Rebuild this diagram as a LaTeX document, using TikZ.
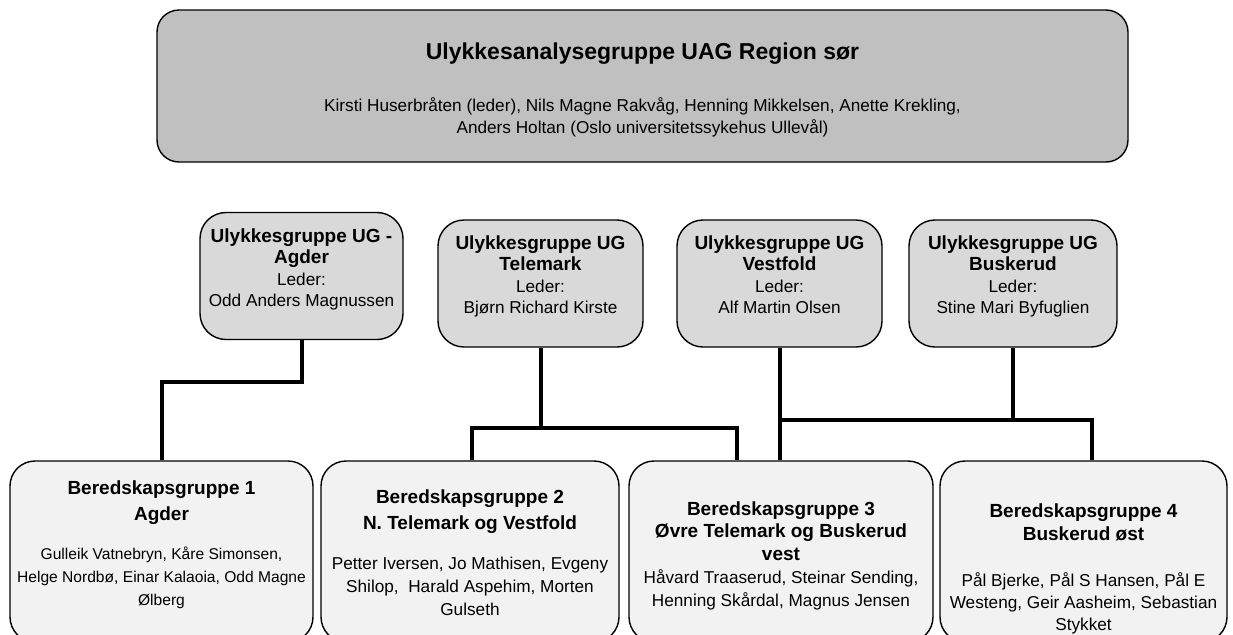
\documentclass[tikz,border=0pt]{standalone}
\usepackage{fontspec}
\setmainfont{Liberation Sans}
\usepackage{xcolor}
\usepackage{tikz}
\usetikzlibrary{positioning}
\definecolor{regiongray}{RGB}{192,192,192}
\definecolor{uggray}{RGB}{217,217,217}
\definecolor{bggray}{RGB}{242,242,242}
\newcommand{\reg}{\mdseries\fontsize{8.6}{10.8}\selectfont}

\begin{document}
\begin{tikzpicture}[x=0.5pt, y=-0.5pt]
\tikzstyle{region} = [rectangle, draw, line width=0.7pt, fill=regiongray, rounded corners=11pt, minimum width=485.5pt, minimum height=76pt]
\tikzstyle{ug} = [rectangle, draw, line width=0.7pt, fill=uggray, rounded corners=13pt, minimum height=63.5pt]
\tikzstyle{bg} = [rectangle, draw, line width=0.7pt, fill=bggray, rounded corners=12.5pt, minimum height=90.5pt]
\tikzstyle{txt} = [anchor=north, align=center, inner sep=0pt, font=\fontsize{8.6}{11.5}\selectfont]
\tikzstyle{head} = [txt, font=\fontsize{9.5}{10.8}\selectfont\bfseries]
\tikzstyle{line} = [draw, line width=2pt]
\useasboundingbox (0,0) rectangle (1233,634);

\node [region] (uag) at (642.5,86) {};
\node [head, font=\fontsize{11.5}{13}\selectfont\bfseries] (uag-title) at (642.5,42) {Ulykkesanalysegruppe UAG Region sør};
\node [txt, font=\fontsize{8.6}{11}\selectfont] (uag-names) at (642.5,97) {Kirsti Huserbråten (leder), Nils Magne Rakvåg, Henning Mikkelsen, Anette Krekling,\\Anders Holtan (Oslo universitetssykehus Ullevål)};

\node [ug, minimum width=101.5pt] (ugagder) at (301.5,276) {};
\node [head] (ugagder-text) at (301.5,228) {Ulykkesgruppe UG -\\Agder\\\reg Leder:\\\reg Odd Anders Magnussen};
\node [ug, minimum width=102.5pt] (ugtelemark) at (540.5,283.5) {};
\node [head] (ugtelemark-text) at (540.5,235) {Ulykkesgruppe UG\\Telemark\\\reg Leder:\\\reg Bjørn Richard Kirste};
\node [ug, minimum width=102.5pt] (ugvestfold) at (779.5,283.5) {};
\node [head] (ugvestfold-text) at (779.5,235) {Ulykkesgruppe UG\\Vestfold\\\reg Leder:\\\reg Alf Martin Olsen};
\node [ug, minimum width=104pt] (ugbuskerud) at (1013,283.5) {};
\node [head] (ugbuskerud-text) at (1013,235) {Ulykkesgruppe UG\\Buskerud\\\reg Leder:\\\reg Stine Mari Byfuglien};

\node [bg, minimum width=151.5pt] (bg1) at (161.5,551.5) {};
\node [head, font=\fontsize{9.5}{13}\selectfont\bfseries] (bg1-head) at (161.5,480) {Beredskapsgruppe 1\\Agder};
\node [txt, font=\fontsize{7.8}{11.5}\selectfont] (bg1-names) at (161.5,547) {Gulleik Vatnebryn, Kåre Simonsen,\\Helge Nordbø, Einar Kalaoia, Odd Magne\\Ølberg};
\node [bg, minimum width=149pt] (bg2) at (470,551.5) {};
\node [head, font=\fontsize{9.5}{13}\selectfont\bfseries] (bg2-head) at (470,489) {Beredskapsgruppe 2\\N. Telemark og Vestfold};
\node [txt] (bg2-names) at (470,557) {Petter Iversen, Jo Mathisen, Evgeny\\Shilop,~ Harald Aspehim, Morten\\Gulseth};
\node [bg, minimum width=152pt] (bg3) at (781,551.5) {};
\node [head, font=\fontsize{9.5}{11.4}\selectfont\bfseries] (bg3-text) at (781,501) {Beredskapsgruppe 3\\Øvre Telemark og Buskerud\\vest\\\reg Håvard Traaserud, Steinar Sending,\\\reg Henning Skårdal, Magnus Jensen};
\node [bg, minimum width=143.5pt] (bg4) at (1083.5,551.5) {};
\node [head, font=\fontsize{9.5}{11.5}\selectfont\bfseries] (bg4-head) at (1083.5,503) {Beredskapsgruppe 4\\Buskerud øst};
\node [txt, font=\fontsize{8.6}{11}\selectfont] (bg4-names) at (1083.5,572) {Pål Bjerke, Pål S Hansen, Pål E\\Westeng, Geir Aasheim, Sebastian\\Stykket};

\coordinate (telleft) at (472,428);
\coordinate (telright) at (737,428);
\coordinate (busright) at (1092,420);
\path [line] (ugagder.south) -- ++(0,42) -| (bg1.north);
\path [line] (ugtelemark.south) -- (ugtelemark.south |- telleft);
\path [line] (telleft |- bg2.north) -- (telleft) -- (telright) -- (telright |- bg3.north);
\path [line] (ugvestfold.south) -- (ugvestfold.south |- bg3.north);
\path [line] (ugvestfold.south |- busright) -- (busright) -- (busright |- bg4.north);
\path [line] (ugbuskerud.south) -- (ugbuskerud.south |- busright);
\end{tikzpicture}
\end{document}
